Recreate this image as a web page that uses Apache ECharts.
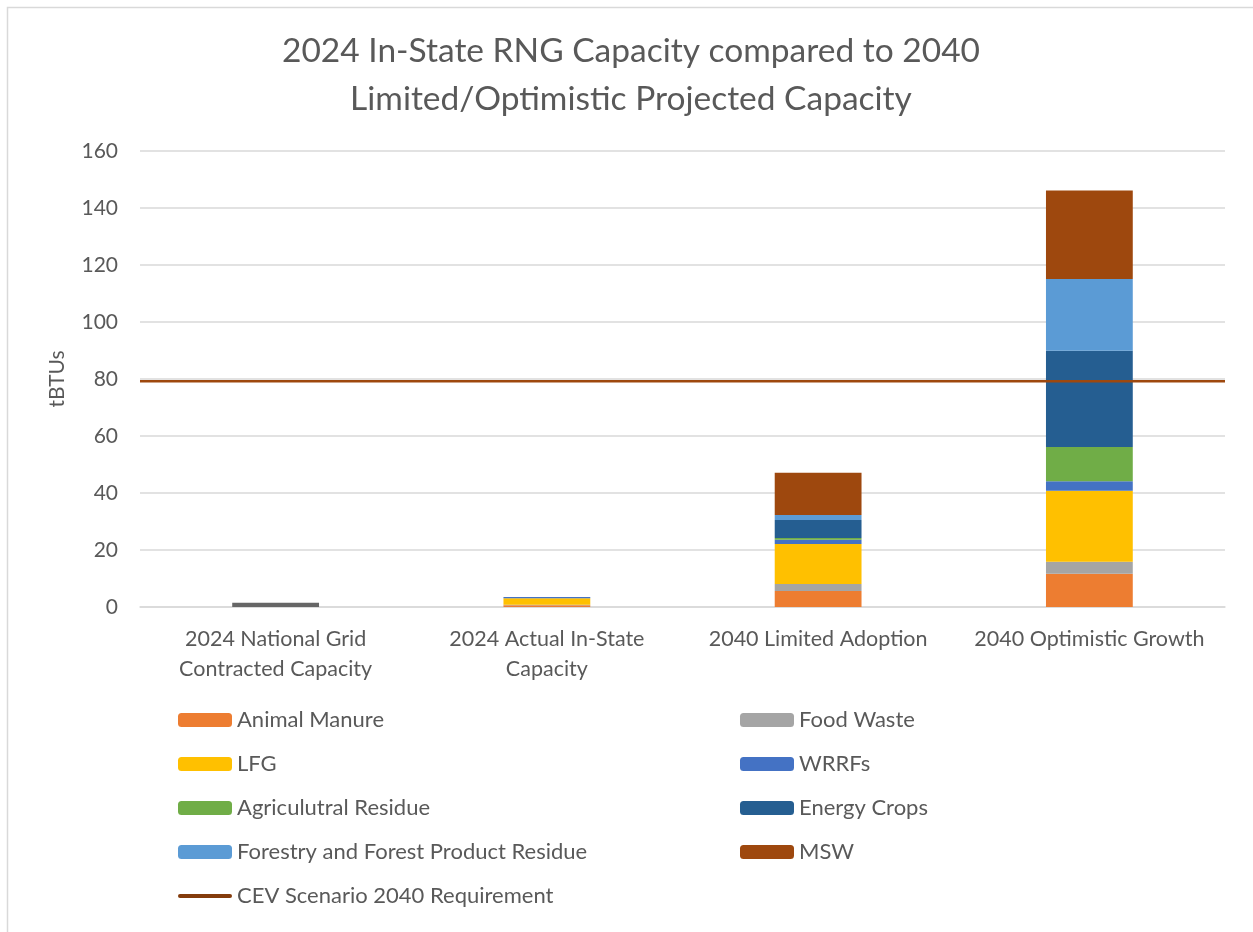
<!DOCTYPE html>
<html>
<head>
<meta charset="utf-8">
<script src="https://cdn.jsdelivr.net/npm/echarts@6/dist/echarts.min.js"></script>
<style>
html,body{margin:0;padding:0;background:#fff;}
#chart{width:1253px;height:932px;}
</style>
</head>
<body>
<div id="chart"></div>
<script>
// Categories along the x axis
const categories = [
  '2024 National Grid\nContracted Capacity',
  '2024 Actual In-State\nCapacity',
  '2040 Limited Adoption',
  '2040 Optimistic Growth'
];

// Capacity by feedstock, tBTUs (one value per category)
const nationalGrid   = [1.5, 0, 0, 0];
const animalManure   = [0, 0.6, 5.6, 11.7];
const foodWaste      = [0, 0.2, 2.5, 4.2];
const lfg            = [0, 2.3, 14.0, 24.9];
const wrrfs          = [0, 0.4, 1.5, 3.3];
const agriResidue    = [0, 0, 0.6, 12.0];
const energyCrops    = [0, 0, 6.3, 33.8];
const forestryResidue= [0, 0, 1.8, 25.2];
const msw            = [0, 0, 14.8, 31.0];

// CEV scenario requirement for 2040, tBTUs
const cevRequirement = 79.2;

// Y axis ticks
const yMin = 0, yMax = 160, yStep = 20;

const FONT = 'Lato, "Open Sans", sans-serif';
const TEXT = '#595959';

const stackSeries = [
  ['National Grid Contracted', nationalGrid, '#666666'],
  ['Animal Manure', animalManure, '#ED7D31'],
  ['Food Waste', foodWaste, '#A5A5A5'],
  ['LFG', lfg, '#FFC000'],
  ['WRRFs', wrrfs, '#4472C4'],
  ['Agriculutral Residue', agriResidue, '#70AD47'],
  ['Energy Crops', energyCrops, '#255E91'],
  ['Forestry and Forest Product Residue', forestryResidue, '#5B9BD5'],
  ['MSW', msw, '#9E480E']
].map(([name, data, color]) => ({
  name, type: 'bar', stack: 'total', data,
  barWidth: '32%',
  itemStyle: { color },
  emphasis: { disabled: true }
}));

const chart = echarts.init(document.getElementById('chart'), null, { renderer: 'canvas' });

const legendCommon = {
  orient: 'vertical',
  height: 300,
  itemWidth: 54,
  itemHeight: 14,
  itemGap: 22,
  selectedMode: false,
  textStyle: { fontFamily: FONT, fontSize: 22, color: TEXT, padding: [0, 0, 0, 0] }
};

chart.setOption({
  animation: false,
  backgroundColor: '#fff',
  graphic: [{
    type: 'rect',
    shape: { x: 7.5, y: 7.5, width: 1260, height: 940 },
    style: { fill: 'none', stroke: '#d9d9d9', lineWidth: 1.5 },
    silent: true
  }],
  title: {
    text: '2024 In-State RNG Capacity compared to 2040\nLimited/Optimistic Projected Capacity',
    left: 626, top: 22, textAlign: 'center',
    textStyle: { fontFamily: FONT, fontSize: 33.5, fontWeight: 'normal', color: TEXT, lineHeight: 48 }
  },
  legend: [
    Object.assign({}, legendCommon, {
      left: 173, top: 704,
      data: [
        'Animal Manure', 'LFG', 'Agriculutral Residue', 'Forestry and Forest Product Residue',
        { name: 'CEV Scenario 2040 Requirement', icon: 'path://M2,0 L52,0 A2,2 0 0 1 52,4 L2,4 A2,2 0 0 1 2,0 Z', itemStyle: { color: '#843C0C' } }
      ]
    }),
    Object.assign({}, legendCommon, {
      left: 735, top: 704,
      data: ['Food Waste', 'WRRFs', 'Energy Crops', 'MSW']
    })
  ],
  grid: { left: 140, right: 28, top: 151, bottom: 325, containLabel: false },
  xAxis: [{
    type: 'category',
    data: categories,
    axisLine: { lineStyle: { color: '#d9d9d9', width: 1.5 } },
    axisTick: { show: false },
    axisLabel: { interval: 0, fontFamily: FONT, fontSize: 21.5, color: TEXT, lineHeight: 30, margin: 17 }
  }, {
    type: 'category',
    data: categories,
    boundaryGap: false,
    show: false
  }],
  yAxis: {
    type: 'value',
    min: yMin, max: yMax, interval: yStep,
    name: 'tBTUs',
    nameLocation: 'middle',
    nameGap: 72,
    nameTextStyle: { fontFamily: FONT, fontSize: 21, color: TEXT },
    axisLine: { show: false },
    axisTick: { show: false },
    splitLine: { lineStyle: { color: '#d9d9d9', width: 1.5 } },
    axisLabel: { fontFamily: FONT, fontSize: 21, color: TEXT, margin: 22 }
  },
  series: stackSeries.concat([{
    name: 'CEV Scenario 2040 Requirement',
    type: 'line',
    xAxisIndex: 1,
    data: categories.map(() => cevRequirement),
    symbol: 'none',
    lineStyle: { color: '#9E480E', width: 2.5 },
    itemStyle: { color: '#843C0C' },
    z: 5
  }])
});
</script>
</body>
</html>
